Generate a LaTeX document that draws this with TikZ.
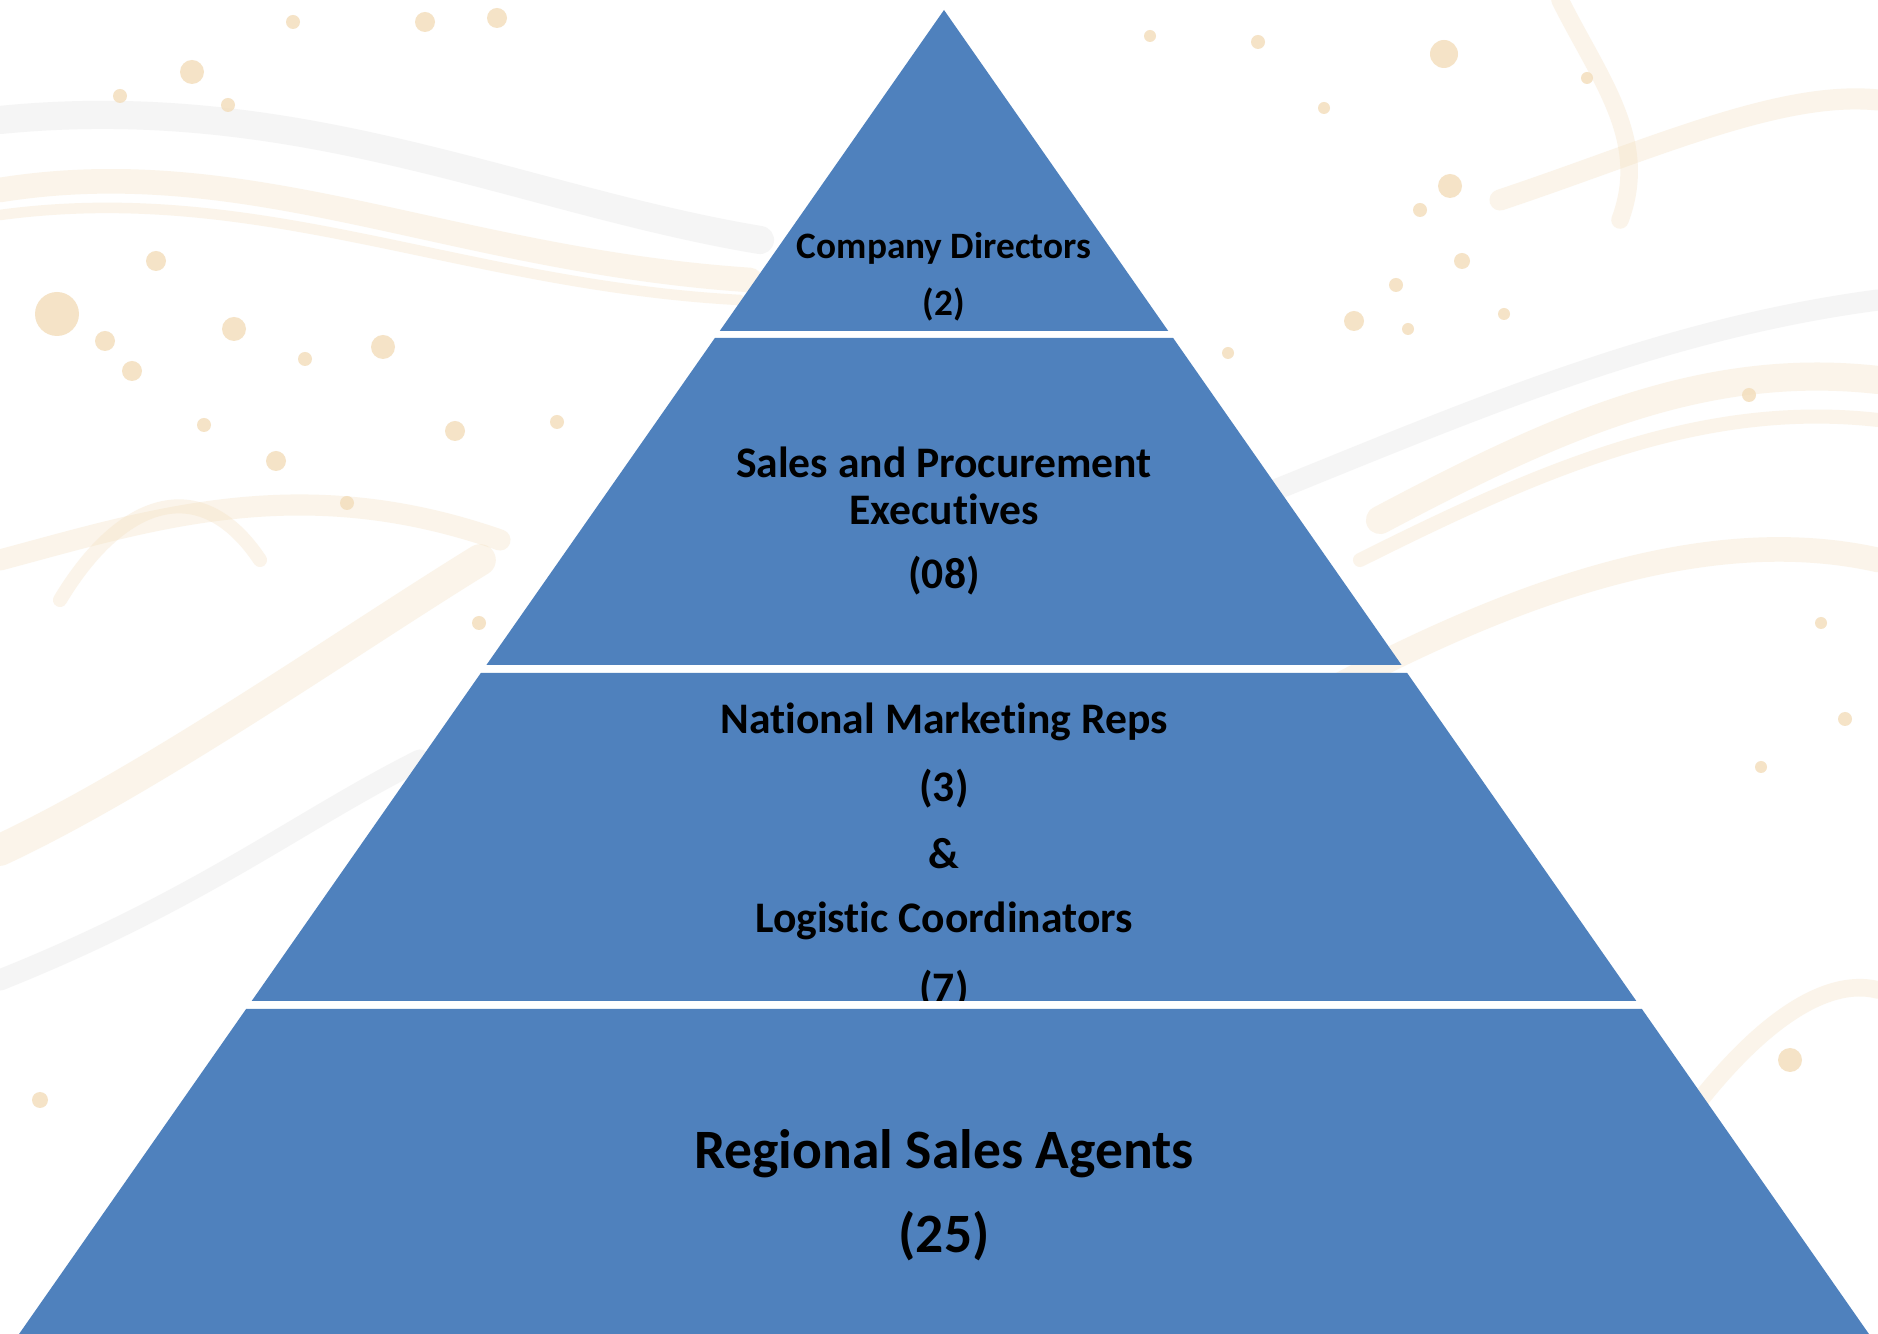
\documentclass[tikz,border=0pt]{standalone}
\usepackage{fontspec}
\setmainfont[Ligatures=NoCommon]{Carlito}
\usepackage{tikz}
\usetikzlibrary{positioning,calc}

\definecolor{tierblue}{HTML}{4F81BD}
\definecolor{marblegold}{HTML}{F3DDBA}
\definecolor{marblegray}{HTML}{ECECEC}

\tikzset{
  tier/.style={fill=tierblue},
  lbl/.style={font=\bfseries, text=black, inner sep=0pt, anchor=center},
  blob/.style={fill=marblegold, opacity=0.8},
  swirl/.style={draw=marblegold, opacity=0.3, line cap=round},
  streak/.style={draw=marblegray, opacity=0.5, line cap=round}
}

% half width of the pyramid at height y (pixels, y downward)
\newcommand{\pyrx}[2]{({944#1 0.6986*(#2-10)},#2)}

\begin{document}
\begin{tikzpicture}[x=0.01cm,y=-0.01cm]
  \useasboundingbox (0,0) rectangle (1878,1334);
  \fill[white] (0,0) rectangle (1878,1334);

  % marble background
  \draw[streak,line width=8] (0,120) .. controls (300,90) and (520,200) .. (760,240);
  \draw[streak,line width=6] (1250,500) .. controls (1450,420) and (1650,330) .. (1878,300);
  \draw[streak,line width=6] (0,980) .. controls (200,900) and (300,820) .. (420,760);
  \draw[swirl,line width=7] (0,190) .. controls (250,150) and (450,260) .. (750,280);
  \draw[swirl,line width=3] (0,215) .. controls (260,180) and (460,285) .. (740,300);
  \draw[swirl,line width=6] (0,560) .. controls (150,520) and (300,470) .. (500,540);
  \draw[swirl,line width=9] (0,850) .. controls (150,780) and (350,640) .. (480,560);
  \draw[swirl,line width=4] (60,600) .. controls (120,500) and (200,470) .. (260,560);
  \draw[swirl,line width=8] (1380,520) .. controls (1550,430) and (1700,360) .. (1878,380);
  \draw[swirl,line width=4] (1360,560) .. controls (1540,470) and (1700,400) .. (1878,420);
  \draw[swirl,line width=7] (1330,690) .. controls (1500,600) and (1700,520) .. (1878,560);
  \draw[swirl,line width=6] (1500,200) .. controls (1650,150) and (1780,90) .. (1878,100);
  \draw[swirl,line width=5] (1560,0) .. controls (1600,80) and (1650,140) .. (1620,220);
  \draw[swirl,line width=5] (1700,1100) .. controls (1780,1000) and (1840,980) .. (1878,990);
  \foreach \bx/\by/\br in {425/22/10, 293/22/7, 497/18/10, 192/72/12, 228/105/7,
      57/314/22, 105/341/10, 132/371/10, 234/329/12, 305/359/7, 383/347/12,
      156/261/10, 120/96/7, 455/431/10, 204/425/7, 276/461/10, 347/503/7,
      479/623/7, 557/422/7, 1450/186/12, 1444/54/14, 1420/210/7, 1396/285/7,
      1462/261/8, 1258/42/7, 1354/321/10, 1408/329/6, 1504/314/6, 1228/353/6,
      1749/395/7, 1845/719/7, 1761/767/6, 1821/623/6, 1150/36/6, 1324/108/6,
      1587/78/6, 1790/1060/12, 1700/1230/8, 40/1100/8, 120/1250/6}
    \fill[blob] (\bx,\by) circle (\br);

  % pyramid tiers
  \foreach \ytop/\ybot in {10/331, 338/665, 673/1001, 1009/1334}
    \fill[tier] \pyrx{-}{\ytop} -- \pyrx{+}{\ytop} -- \pyrx{+}{\ybot} -- \pyrx{-}{\ybot} -- cycle;

  % tier 1
  \node[lbl,font=\bfseries\fontsize{10.6}{12}\selectfont] (dir) at (944,248) {Company Directors};
  \node[lbl,font=\bfseries\fontsize{10.6}{12}\selectfont] (dirn) at (944,304) {(2)};

  % tier 2
  \node[lbl,font=\bfseries\fontsize{12.4}{14}\selectfont] (exec) at (944,462) {Sales and Procurement};
  \node[lbl,font=\bfseries\fontsize{12.4}{14}\selectfont] (exec2) at (944,509) {Executives};
  \node[lbl,font=\bfseries\fontsize{12.4}{14}\selectfont] (execn) at (944,576) {(08)};

  % tier 3
  \begin{scope}
    \clip \pyrx{-}{673} -- \pyrx{+}{673} -- \pyrx{+}{1001} -- \pyrx{-}{1001} -- cycle;
    \node[lbl,font=\bfseries\fontsize{12.4}{14}\selectfont] (reps) at (944,722) {National Marketing Reps};
    \node[lbl,font=\bfseries\fontsize{12.4}{14}\selectfont] (repsn) at (944,789) {(3)};
    \node[lbl,font=\bfseries\fontsize{12.4}{14}\selectfont] (amp) at (944,854) {\&};
    \node[lbl,font=\bfseries\fontsize{12.4}{14}\selectfont] (logi) at (944,921) {Logistic Coordinators};
    \node[lbl,font=\bfseries\fontsize{12.4}{14}\selectfont] (login) at (944,990) {(7)};
  \end{scope}

  % tier 4
  \node[lbl,font=\bfseries\fontsize{15.8}{19}\selectfont] (agents) at (944,1154) {Regional Sales Agents};
  \node[lbl,font=\bfseries\fontsize{15.8}{19}\selectfont] (agentsn) at (944,1236) {(25)};
\end{tikzpicture}
\end{document}
